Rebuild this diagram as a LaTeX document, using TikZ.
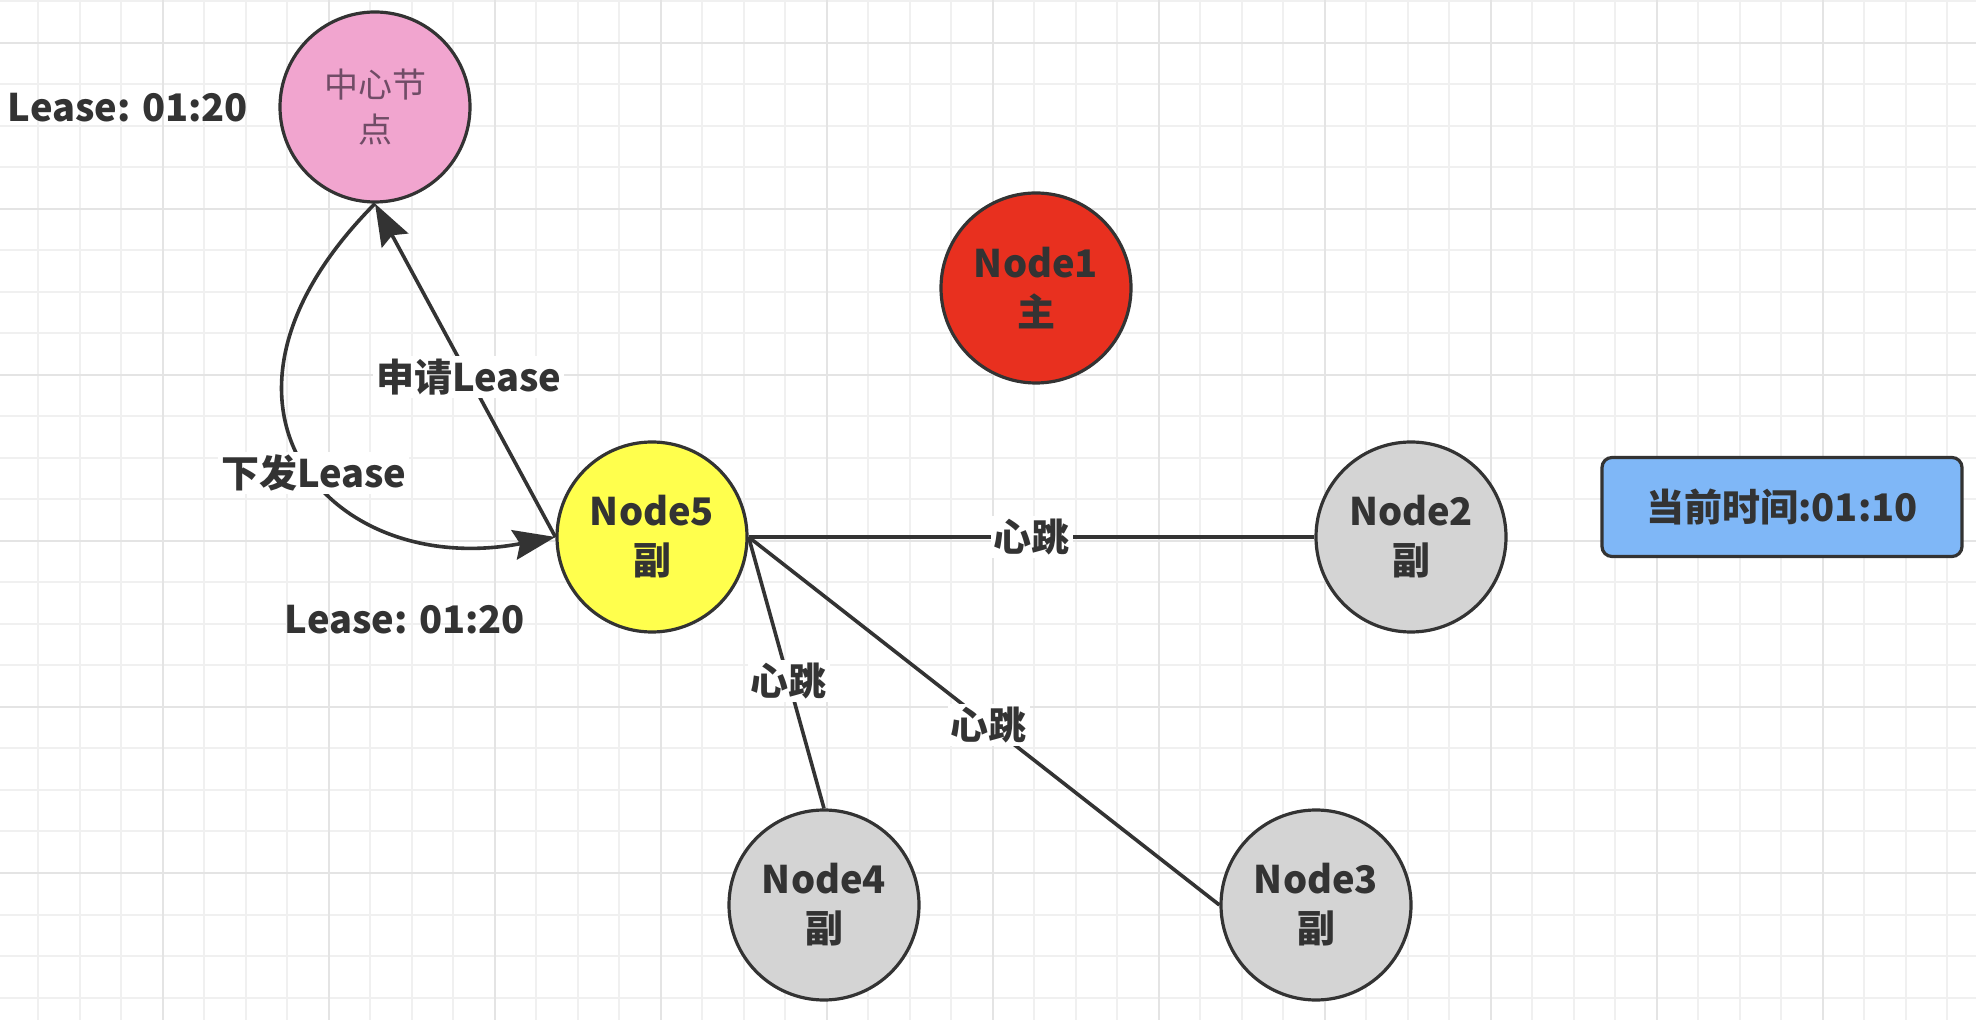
\documentclass[tikz,border=0pt]{standalone}
\usepackage{fontspec}
\setmainfont{Noto Sans CJK SC}
\usetikzlibrary{arrows.meta}

\definecolor{gridminor}{HTML}{F0F0F0}
\definecolor{gridmajor}{HTML}{E4E4E4}
\definecolor{inkgray}{HTML}{333333}
\definecolor{hubpink}{HTML}{F1A5CF}
\definecolor{hubtext}{HTML}{704C66}
\definecolor{masterred}{HTML}{E8301F}
\definecolor{leaseyellow}{HTML}{FFFF4D}
\definecolor{slavegray}{HTML}{D4D4D4}
\definecolor{clockblue}{HTML}{7FB7F7}

\tikzset{
  member/.style={circle, draw=inkgray, line width=1.6pt, minimum size=95pt, inner sep=0pt,
    align=center, text=inkgray, font=\fontsize{19}{24.5}\selectfont\bfseries},
  plain/.style={text=inkgray, font=\fontsize{19}{24.5}\selectfont\bfseries},
  tag/.style={plain, fill=white, inner sep=1.5pt},
  link/.style={draw=inkgray, line width=1.8pt},
  tip/.style={-{Stealth[length=21pt, width=15pt, inset=3pt]}}
}

\begin{document}
\begin{tikzpicture}[x=0.5pt, y=-0.5pt]
    \useasboundingbox (0,0) rectangle (1976,1020);
    \fill[white] (0,0) rectangle (1976,1020);

    % grid
    \foreach \i in {0,...,47}
        \draw[gridminor, line width=1pt] ({38.2+41.5*\i},0) -- ({38.2+41.5*\i},1020);
    \foreach \i in {0,...,24}
        \draw[gridminor, line width=1pt] (0,{1.5+41.5*\i}) -- (1976,{1.5+41.5*\i});
    \foreach \i in {0,...,11}
        \draw[gridmajor, line width=1pt] ({163+166*\i},0) -- ({163+166*\i},1020);
    \foreach \i in {0,...,5}
        \draw[gridmajor, line width=1pt] (0,{43+166*\i}) -- (1976,{43+166*\i});

    % nodes
    \node[member, fill=hubpink, text=hubtext, font=\fontsize{17}{22.5}\selectfont] (hub) at (375, 107) {中心节\\点};
    \node[member, fill=masterred] (n1) at (1036, 288) {Node1\\主};
    \node[member, fill=leaseyellow] (n5) at (652, 537) {Node5\\副};
    \node[member, fill=slavegray] (n2) at (1411, 537) {Node2\\副};
    \node[member, fill=slavegray] (n4) at (824, 905) {Node4\\副};
    \node[member, fill=slavegray] (n3) at (1316, 905) {Node3\\副};
    \node[plain, draw=inkgray, line width=1.6pt, fill=clockblue, rounded corners=5pt,
        minimum width=180pt, minimum height=49.5pt] (clock) at (1782, 507) {当前时间:01:10};

    \node[plain] (leasehub) at (128, 108) {Lease: 01:20};
    \node[plain] (leasen5) at (405, 620) {Lease: 01:20};

    % lease requests
    \draw[link, tip] (n5.west) -- node[tag, pos=0.48]{申请Lease} (hub.south);
    \draw[link, tip] (hub.south) .. controls (175, 405) and (330, 580) .. node[tag, pos=0.53]{下发Lease} (n5.west);

    % heartbeats
    \draw[link] (n5.east) -- node[tag]{心跳} (n2.west);
    \draw[link] (n5.east) -- node[tag, pos=0.53]{心跳} (n4.north);
    \draw[link] (n5.east) -- node[tag, pos=0.51]{心跳} (n3.west);
\end{tikzpicture}
\end{document}
